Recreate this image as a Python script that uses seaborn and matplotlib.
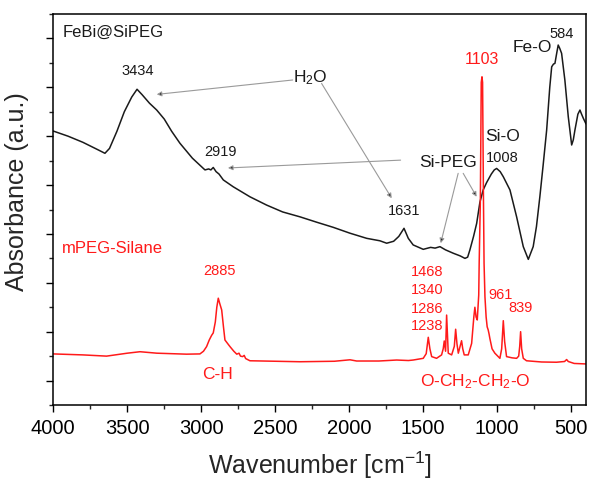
import numpy as np
import pandas as pd
import matplotlib
matplotlib.use("Agg")
import matplotlib.pyplot as plt
import seaborn as sns
from matplotlib.ticker import MultipleLocator

# ---------------- data ----------------
black_wn = [4000, 3900, 3800, 3700, 3651, 3620, 3570, 3520, 3470, 3434, 3400, 3350,
            3301, 3250, 3200, 3144, 3060, 2975, 2950, 2935, 2919, 2900, 2880, 2851,
            2784, 2671, 2558, 2450, 2333, 2220, 2108, 1995, 1882, 1793, 1747, 1700,
            1665, 1630, 1601, 1568, 1500, 1450, 1420, 1387, 1350, 1297, 1250, 1218,
            1200, 1185, 1160, 1139, 1117, 1095, 1072, 1040, 1020, 1004, 980, 959, 914,
            869, 824, 790, 757, 735, 712, 690, 666, 645, 632, 620, 610, 598, 588,
            578, 565, 543, 520, 497, 486, 475, 455, 441, 430, 418, 400]
black_abs = [10.21, 10.0, 9.75, 9.45, 9.30, 9.5, 10.2, 11.0, 11.6, 11.92, 11.7, 11.35,
             11.07, 10.7, 10.2, 9.71, 9.1, 8.62, 8.66, 8.62, 8.72, 8.55, 8.45, 8.21,
             7.93, 7.52, 7.18, 6.9, 6.70, 6.48, 6.27, 6.03, 5.82, 5.72, 5.62, 5.7,
             5.9, 6.23, 5.82, 5.55, 5.37, 5.45, 5.42, 5.48, 5.35, 5.21, 5.1, 5.0,
             5.05, 5.34, 5.9, 6.43, 7.3, 7.8, 8.1, 8.45, 8.62, 8.68, 8.55, 8.34, 7.80,
             6.70, 5.48, 4.96, 5.48, 6.3, 7.52, 8.8, 10.25, 12.0, 12.84, 12.95, 12.98,
             13.4, 13.73, 13.6, 13.39, 12.30, 10.80, 9.64, 9.85, 10.25, 10.9, 11.07,
             10.9, 10.73, 10.5]

red_wn = [4000, 3800, 3640, 3500, 3414, 3300, 3100, 3009, 2985, 2964, 2946, 2930,
          2919, 2905, 2895, 2885, 2875, 2862, 2850, 2840, 2820, 2806, 2780, 2760,
          2745, 2735, 2720, 2710, 2700, 2671, 2500, 2333, 2100, 1995, 1950, 1800,
          1680, 1600, 1568, 1500, 1480, 1466, 1455, 1443, 1410, 1376, 1365, 1358,
          1349, 1342, 1331, 1308, 1290, 1281, 1272, 1263, 1241, 1233, 1223, 1196,
          1173, 1158, 1151, 1143, 1135, 1125, 1122, 1114, 1108, 1103, 1099, 1093,
          1089, 1083, 1075, 1068, 1061, 1055, 1050, 1035, 1016, 982, 970, 959, 950,
          937, 900, 869, 855, 848, 842, 835, 824, 802, 700, 600, 545, 531, 520, 480, 400]
red_abs = [1.09, 1.05, 1.00, 1.12, 1.18, 1.12, 1.08, 1.09, 1.2, 1.39, 1.66, 1.85,
           1.95, 2.4, 3.0, 3.37, 3.15, 2.89, 2.2, 1.66, 1.5, 1.39, 1.2, 1.08,
           1.12, 1.0, 0.98, 1.03, 0.9, 0.81, 0.79, 0.77, 0.79, 0.85, 0.8, 0.8,
           0.84, 0.82, 0.84, 0.91, 1.1, 1.77, 1.3, 0.98, 0.91, 1.05, 1.3, 1.62,
           1.2, 2.68, 1.12, 1.05, 1.4, 2.1, 1.5, 1.12, 1.63, 1.3, 1.05, 1.05,
           1.52, 2.61, 3.0, 2.6, 2.48, 3.5, 4.8, 7.4, 12.2, 12.43, 12.2, 7.4,
           4.8, 3.43, 2.6, 2.2, 2.07, 1.9, 1.73, 1.3, 1.12, 0.91, 1.3, 2.45, 1.6,
           0.98, 0.93, 0.91, 1.0, 1.4, 2.0, 1.3, 0.91, 0.81, 0.76, 0.75, 0.78, 0.86,
           0.78, 0.7, 0.68]

x_ticks = [4000, 3500, 3000, 2500, 2000, 1500, 1000, 500]

peak_labels_black = ["3434", "2919", "1631", "1008", "584"]
peak_labels_red = ["2885", "1468", "1340", "1286", "1238", "1103", "961", "839"]

# ---------------- build dataframe ----------------
df = pd.concat([
    pd.DataFrame({"wn": black_wn, "abs": black_abs, "sample": "FeBi@SiPEG"}),
    pd.DataFrame({"wn": red_wn, "abs": red_abs, "sample": "mPEG-Silane"}),
], ignore_index=True)

sns.set_style("ticks")
plt.rcParams["font.family"] = ["Liberation Sans", "DejaVu Sans"]
plt.rcParams["mathtext.default"] = "regular"

fig = plt.figure(figsize=(5.92, 4.83), dpi=100)
ax = fig.add_axes([0.0900, 0.1615, 0.8999, 0.8095])

sns.lineplot(data=df, x="wn", y="abs", hue="sample",
             palette={"FeBi@SiPEG": "#1a1a1a", "mPEG-Silane": "#ff1a1a"},
             estimator=None, linewidth=1.1, legend=False, ax=ax)

ax.set_xlim(4000, 400)
ax.set_ylim(-1, 15)
ax.set_xticks(x_ticks)
ax.set_xticklabels([str(t) for t in x_ticks])
ax.xaxis.set_minor_locator(MultipleLocator(250))
ax.set_yticks(np.arange(0, 15, 2))
ax.yaxis.set_minor_locator(MultipleLocator(1))
ax.set_yticklabels([])
ax.tick_params(axis="both", which="major", length=5.2, width=1.0, direction="out",
               labelsize=14.5, pad=5, colors="black")
ax.tick_params(axis="both", which="minor", length=3, width=1.0, direction="out")
ax.tick_params(top=False, right=False, which="both")
for s in ax.spines.values():
    s.set_visible(True)
    s.set_linewidth(1.1)
    s.set_color("black")

ax.set_xlabel("Wavenumber [cm$^{-1}$]", fontsize=18)
ax.set_ylabel("Absorbance (a.u.)", fontsize=18)
ax.xaxis.set_label_coords(0.5, -0.115)
ax.yaxis.set_label_coords(-0.045, 0.545)

# ---------------- annotations ----------------
blk = "#1a1a1a"
red = "#ff1a1a"
ax.text(0.017, 0.954, "FeBi@SiPEG", transform=ax.transAxes, fontsize=12,
        ha="left", va="center", color=blk)
ax.text(0.017, 0.40, "mPEG-Silane", transform=ax.transAxes, fontsize=12,
        ha="left", va="center", color=red)

# black peak labels
for lab, (x, y) in zip(peak_labels_black,
                       [(3427, 12.67), (2867, 9.35), (1630, 6.94), (968, 9.11), (563, 14.18)]):
    ax.text(x, y, lab, fontsize=10.5, ha="center", va="center", color=blk)

# red peak labels
red_pos = [(2874, 4.48), (1474, 4.44), (1474, 3.71), (1474, 2.93), (1474, 2.23),
           (1103, 13.12), (975, 3.50), (840, 2.97)]
for lab, (x, y) in zip(peak_labels_red, red_pos):
    fs = 11.5 if lab == "1103" else 10.5
    ax.text(x, y, lab, fontsize=fs, ha="center", va="center", color=red)

ax.text(961, 9.97, "Si-O", fontsize=12.5, ha="center", va="center", color=blk)
ax.text(765, 13.61, "Fe-O", fontsize=12.5, ha="center", va="center", color=blk)
ax.text(2266, 12.38, "H$_2$O", fontsize=12.5, ha="center", va="center", color=blk)
ax.text(1333, 8.94, "Si-PEG", fontsize=12.5, ha="center", va="center", color=blk)
ax.text(2887, 0.23, "C-H", fontsize=12.5, ha="center", va="center", color=red)
ax.text(1151, -0.06, "O-CH$_2$-CH$_2$-O", fontsize=12.5, ha="center", va="center", color=red)

arrow_kw = dict(arrowstyle="-|>", edgecolor="#9a9a9a", facecolor="#222222",
                lw=0.8, mutation_scale=7, shrinkA=0, shrinkB=0)
arrows = [((2382, 12.30), (3301, 11.71)),
          ((2187, 12.16), (1713, 7.46)),
          ((1653, 9.02), (2820, 8.70)),
          ((1264, 8.48), (1382, 5.62)),
          ((1230, 8.48), (1139, 7.52))]
for (xs, ys), (xt, yt) in arrows:
    ax.annotate("", xy=(xt, yt), xytext=(xs, ys), arrowprops=arrow_kw)

fig.savefig("out.png", dpi=100)
